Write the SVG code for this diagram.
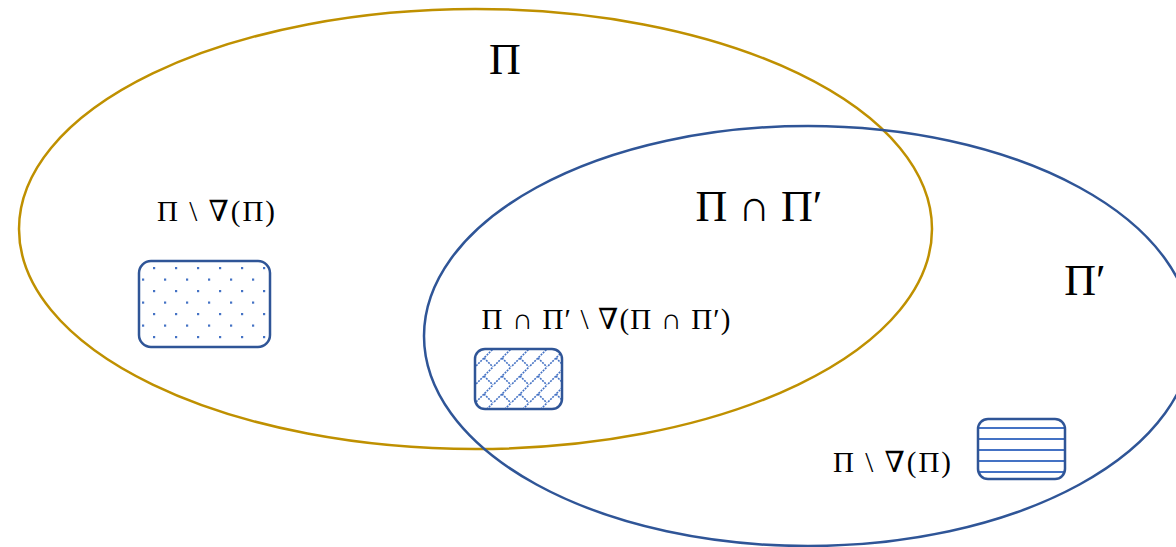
<svg xmlns="http://www.w3.org/2000/svg" width="1176" height="547" viewBox="0 0 1176 547">
<style>
.t{font-family:"Liberation Serif","DejaVu Serif",serif;fill:#000;text-anchor:middle}
.big{font-size:44px}
.sm{font-size:29px}
.box{stroke:#2F5597;stroke-width:2.5}
</style>
<defs>
<pattern id="dots" x="139" y="261" width="22" height="23" patternUnits="userSpaceOnUse">
<rect x="14" y="6" width="2.2" height="2.2" fill="#4472C4"/>
<rect x="3" y="17.5" width="2.2" height="2.2" fill="#4472C4"/>
</pattern>
<pattern id="hlines" x="978" y="419" width="20" height="11" patternUnits="userSpaceOnUse">
<rect x="0" y="8" width="20" height="2" fill="#4472C4"/>
</pattern>
<pattern id="brick" x="475" y="349" width="18" height="18" patternUnits="userSpaceOnUse">
<path d="M-1,19 L19,-1 M9,9 L18,18" stroke="#4472C4" stroke-width="1.6" stroke-dasharray="2 1" fill="none"/>
</pattern>
</defs>
<rect width="1176" height="547" fill="#fff"/>
<g id="connectors"></g>
<g id="setPi">
<ellipse cx="475.5" cy="229" rx="456.5" ry="220" fill="none" stroke="#BF9000" stroke-width="2.5"/>
<text class="t big" x="505" y="74">Π</text>
</g>
<g id="setPiPrime">
<ellipse cx="808" cy="336" rx="384" ry="210" fill="none" stroke="#2F5597" stroke-width="2.5"/>
<text class="t big" x="1085" y="295">Π′</text>
</g>
<g id="intersection">
<text class="t big" x="759" y="221">Π ∩ Π′</text>
</g>
<g id="node1">
<text class="t sm" x="216" y="221" textLength="118" lengthAdjust="spacing">Π \ ∇(Π)</text>
<rect class="box" x="139" y="261" width="131" height="86" rx="12" fill="url(#dots)"/>
</g>
<g id="node2">
<text class="t sm" x="606" y="329" textLength="249" lengthAdjust="spacing">Π ∩ Π′ \ ∇(Π ∩ Π′)</text>
<rect class="box" x="475" y="349" width="87" height="60" rx="10" fill="url(#brick)"/>
</g>
<g id="node3">
<text class="t sm" x="892" y="472" textLength="118" lengthAdjust="spacing">Π \ ∇(Π)</text>
<rect class="box" x="978" y="419" width="87" height="60" rx="10" fill="url(#hlines)"/>
</g>
</svg>
